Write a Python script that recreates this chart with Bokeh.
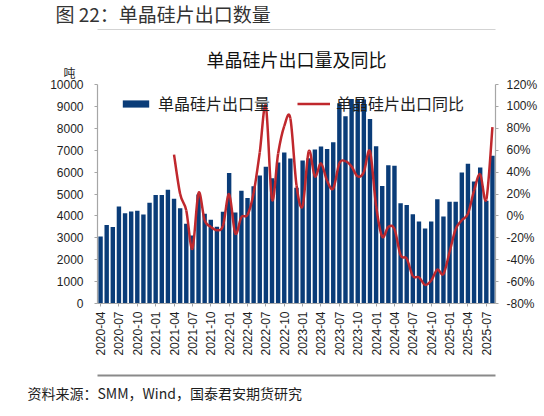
import math
from bokeh.plotting import figure
from bokeh.models import (Range1d, LinearAxis, FixedTicker, SingleIntervalTicker,
                          PrintfTickFormatter, Legend, LegendItem, ColumnDataSource, Title)
from bokeh.layouts import column
from bokeh.embed import file_html
from bokeh.resources import INLINE

# ---------------- data ----------------
months = [
    "2020-04", "2020-05", "2020-06", "2020-07", "2020-08", "2020-09", "2020-10", "2020-11", "2020-12",
    "2021-01", "2021-02", "2021-03", "2021-04", "2021-05", "2021-06", "2021-07", "2021-08", "2021-09",
    "2021-10", "2021-11", "2021-12",
    "2022-01", "2022-02", "2022-03", "2022-04", "2022-05", "2022-06", "2022-07", "2022-08", "2022-09",
    "2022-10", "2022-11", "2022-12",
    "2023-01", "2023-02", "2023-03", "2023-04", "2023-05", "2023-06", "2023-07", "2023-08", "2023-09",
    "2023-10", "2023-11", "2023-12",
    "2024-01", "2024-02", "2024-03", "2024-04", "2024-05", "2024-06", "2024-07", "2024-08", "2024-09",
    "2024-10", "2024-11", "2024-12",
    "2025-01", "2025-02", "2025-03", "2025-04", "2025-05", "2025-06", "2025-07", "2025-08",
]

# 单晶硅片出口量 (吨)
volume = [
    3060, 3590, 3490, 4430, 4120, 4200, 4230, 4060, 4600, 4960, 4960, 5190,
    4780, 4350, 3640, 3100, 4980, 4100, 3820, 3510, 4190, 5960, 4150, 5150,
    4820, 5350, 5850, 6250, 5720, 6440, 6900, 6620, 5290, 6530, 6630, 7030,
    7170, 7050, 7360, 9140, 8550, 9340, 9310, 9310, 8430, 7180, 5370, 6310,
    6290, 4580, 4500, 4080, 3740, 3430, 3740, 4760, 3970, 4650, 4650, 5980,
    6380, 5570, 6210, 4690, 6750,
]

# 单晶硅片出口同比 (%), from 2021-04
yoy_months = months[12:]
yoy = [
    56, 20, 5, -30, 21, -4, -10, -13, -9, 20,
    -16, -1, 1, 21, 58, 100, 15, 57, 82, 89,
    28, 9, 59, 36, 48, 32, 25, 48, 50, 45,
    36, 40, 59, 9, -19, -10, -12, -36, -39, -55,
    -56, -63, -59, -49, -53, -33, -12, -4, 2, 23,
    38, 15, 81,
]

tick_months = months[::3]

title_text = "图 22：单晶硅片出口数量"
chart_title = "单晶硅片出口量及同比"
bar_name = "单晶硅片出口量"
line_name = "单晶硅片出口同比"
unit_text = "吨"
source_text = "资料来源：SMM，Wind，国泰君安期货研究"

# ---------------- style / geometry ----------------
CJK = "Noto Sans CJK SC"
NUM = "Liberation Sans"
BAR_COLOR = "#0A3C78"
LINE_COLOR = "#C0282D"
AXIS_COLOR = "#A6A6A6"
RULE_COLOR = "#8A8A8A"
TEXT_COLOR = "#1E1E1E"

PAGE_W = 544
BL, BR = 97, 49            # left / right borders (frame 97..495)
MAIN_TOP = 29              # page y where the main figure starts
FRAME_TOP, AXIS_TOP, FRAME_BOTTOM = 70, 84, 303
MAIN_H = 345
UNIT_Y = 72                # page y of the unit label

span_px = FRAME_BOTTOM - AXIS_TOP
y_top = 10000 * (FRAME_BOTTOM - FRAME_TOP) / span_px
pct_top = -80 + 200 * (FRAME_BOTTOM - FRAME_TOP) / span_px
unit_val = 10000 * (FRAME_BOTTOM - UNIT_Y) / span_px


def strip(h, top_border, bottom_border):
    # a figure whose 2px-high frame is painted grey and serves as the rule line
    f = figure(width=PAGE_W, height=h, output_backend="svg", toolbar_location=None,
               min_border_left=BL, min_border_right=BR, min_border_top=top_border,
               min_border_bottom=bottom_border, x_axis_location=None, y_axis_location=None,
               outline_line_color=None, background_fill_color=RULE_COLOR)
    f.xgrid.visible = False
    f.ygrid.visible = False
    return f


# heading + top rule
head = strip(29, 27, 0)
head.title.text = title_text
head.title.align = "left"
head.title.offset = -42
head.title.standoff = 5
head.title.text_font = CJK
head.title.text_font_size = "19px"
head.title.text_font_style = "normal"
head.title.text_color = "#333333"

# ---------------- main chart ----------------
x_idx = list(range(len(months)))
src = ColumnDataSource(dict(x=x_idx, v=volume))

p = figure(width=PAGE_W, height=MAIN_H, x_range=Range1d(-0.5, len(months) - 0.5),
           y_range=Range1d(0, y_top), output_backend="svg", toolbar_location=None,
           min_border_left=BL, min_border_right=BR,
           min_border_top=FRAME_TOP - MAIN_TOP,
           min_border_bottom=MAIN_TOP + MAIN_H - FRAME_BOTTOM,
           outline_line_color=None)
p.xgrid.visible = False
p.ygrid.visible = False

bars = p.vbar(x="x", top="v", width=0.72, source=src, fill_color=BAR_COLOR, line_color=None)

# secondary axis
p.extra_y_ranges = {"pct": Range1d(-80, pct_top)}
right = LinearAxis(y_range_name="pct", ticker=SingleIntervalTicker(interval=20),
                   formatter=PrintfTickFormatter(format="%d%%"), bounds=(-80, 120))
p.add_layout(right, "right")

# smooth line (Catmull-Rom -> cubic Bezier through the data points)
lx = [months.index(m) for m in yoy_months]
ly = yoy
n = len(lx)
bx0, by0, bx1, by1, cx0, cy0, cx1, cy1 = [], [], [], [], [], [], [], []
for i in range(n - 1):
    i0 = max(i - 1, 0)
    i3 = min(i + 2, n - 1)
    bx0.append(lx[i]); by0.append(ly[i])
    bx1.append(lx[i + 1]); by1.append(ly[i + 1])
    cx0.append(lx[i] + (lx[i + 1] - lx[i0]) / 6.0)
    cy0.append(ly[i] + (ly[i + 1] - ly[i0]) / 6.0)
    cx1.append(lx[i + 1] - (lx[i3] - lx[i]) / 6.0)
    cy1.append(ly[i + 1] - (ly[i3] - ly[i]) / 6.0)
bsrc = ColumnDataSource(dict(x0=bx0, y0=by0, x1=bx1, y1=by1, cx0=cx0, cy0=cy0, cx1=cx1, cy1=cy1))
curve = p.bezier(x0="x0", y0="y0", x1="x1", y1="y1", cx0="cx0", cy0="cy0", cx1="cx1", cy1="cy1",
                 source=bsrc, line_color=LINE_COLOR, line_width=2.5, y_range_name="pct")

# axes styling
left = p.yaxis[0]
left.ticker = SingleIntervalTicker(interval=1000)
left.bounds = (0, 10000)
bottom = p.xaxis[0]
bottom.ticker = FixedTicker(ticks=[months.index(m) for m in tick_months])
bottom.major_label_overrides = {months.index(m): m for m in tick_months}
bottom.major_label_orientation = math.pi / 2

for ax in (left, right, bottom):
    ax.axis_line_color = AXIS_COLOR
    ax.axis_line_width = 1.2
    ax.major_tick_line_color = AXIS_COLOR
    ax.minor_tick_line_color = None
    ax.major_tick_in = 0
    ax.major_tick_out = 3
    ax.major_label_text_font = NUM
    ax.major_label_text_font_size = "12px"
    ax.major_label_text_color = TEXT_COLOR
left.major_label_standoff = 10
right.major_label_standoff = 7
bottom.major_label_standoff = 5

# unit label "吨" (label-only axis at the top-left)
unit_axis = LinearAxis(ticker=FixedTicker(ticks=[unit_val]),
                       major_label_overrides={unit_val: unit_text},
                       axis_line_color=None, major_tick_line_color=None,
                       minor_tick_line_color=None, major_tick_in=0, major_tick_out=0,
                       major_label_standoff=-28, major_label_text_font=CJK,
                       major_label_text_font_size="12px", major_label_text_color=TEXT_COLOR)
p.add_layout(unit_axis, "left")

# legend
legend = Legend(items=[LegendItem(label=bar_name, renderers=[bars]),
                       LegendItem(label=line_name, renderers=[curve])],
                orientation="horizontal", location=(22, 188), padding=0, margin=0,
                spacing=27, label_standoff=6, glyph_width=33, glyph_height=9,
                label_text_font=CJK, label_text_font_size="16px", label_text_color=TEXT_COLOR,
                background_fill_alpha=0, border_line_alpha=0)
p.add_layout(legend, "center")

# chart title
p.title.text = chart_title
p.title.align = "center"
p.title.offset = 8
p.title.standoff = -3
p.title.text_font = CJK
p.title.text_font_size = "18px"
p.title.text_font_style = "normal"
p.title.text_color = "#111111"

# ---------------- footer: bottom rule + source ----------------
foot = strip(42, 0, 40)
foot.title.standoff = 0
foot.add_layout(Title(text=source_text, align="left", offset=27 - BL, standoff=8,
                      text_font=CJK, text_font_size="14px", text_font_style="normal",
                      text_color=TEXT_COLOR), "below")

layout = column(head, p, foot, spacing=0)
open("out.html", "w").write(file_html(layout, INLINE))
